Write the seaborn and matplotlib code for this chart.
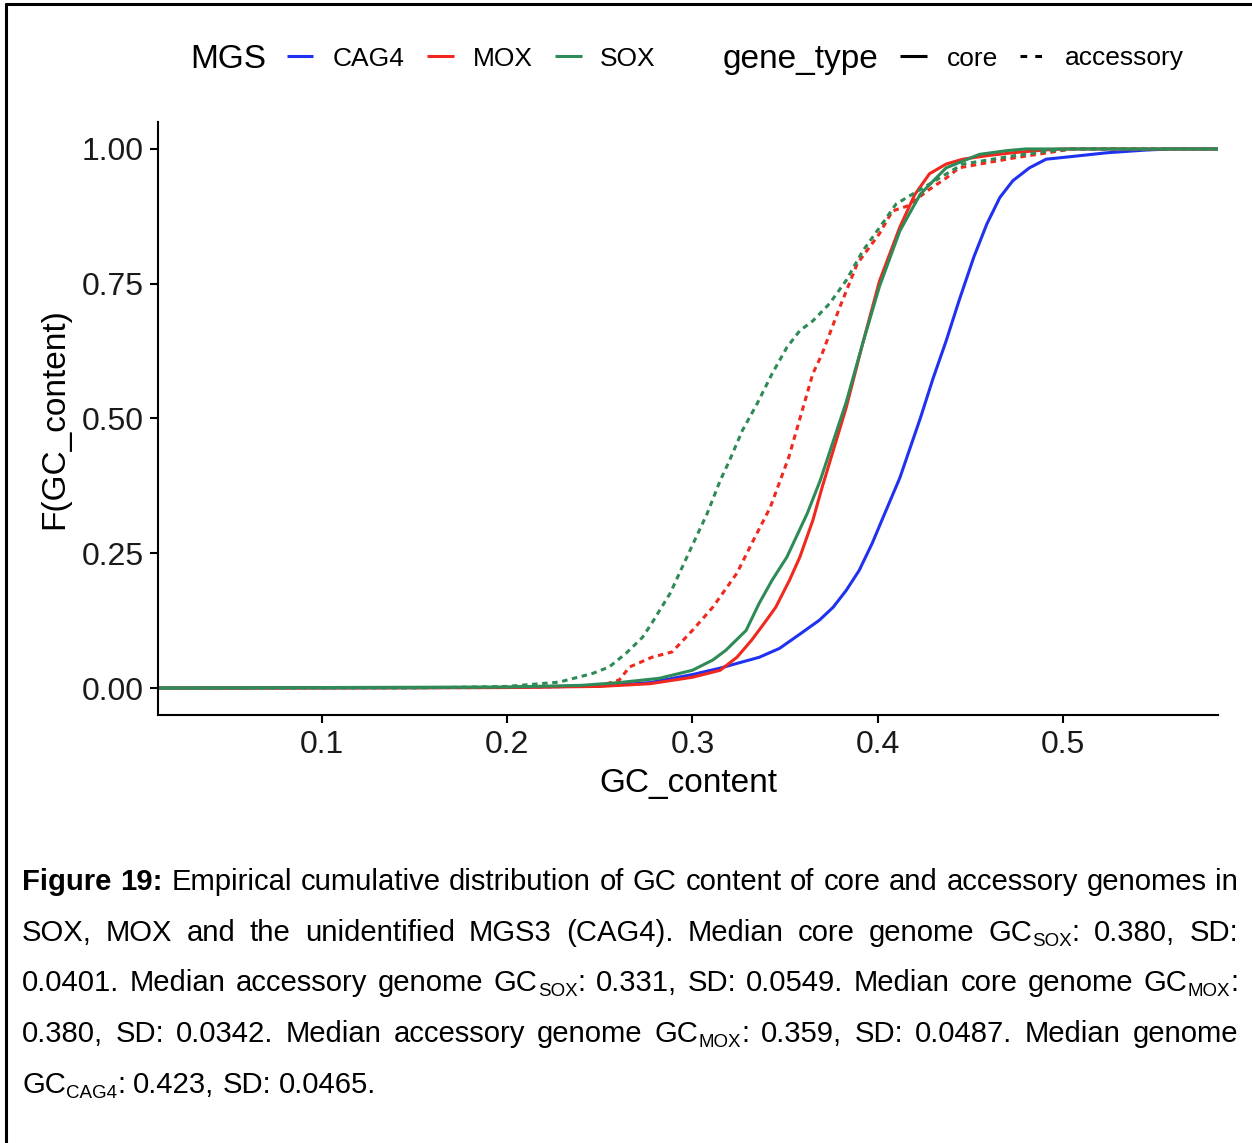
import re
import numpy as np
import pandas as pd
import matplotlib
matplotlib.use("Agg")
import matplotlib.pyplot as plt
from matplotlib.lines import Line2D
import seaborn as sns

# ---------------- data ----------------
mgs_levels = ["CAG4", "MOX", "SOX"]
gene_levels = ["core", "accessory"]

gc_cag4_core = [0.012, 0.20, 0.25, 0.277, 0.300, 0.315, 0.3254, 0.336, 0.347, 0.358, 0.3686,
                0.376, 0.383, 0.390, 0.397, 0.403, 0.412, 0.423, 0.430, 0.437, 0.444, 0.452,
                0.459, 0.466, 0.473, 0.482, 0.491, 0.505, 0.524, 0.545, 0.558, 0.584]
f_cag4_core = [0.0, 0.001, 0.004, 0.010, 0.025, 0.037, 0.047, 0.057, 0.0735, 0.100, 0.126,
               0.150, 0.181, 0.218, 0.268, 0.317, 0.390, 0.500, 0.575, 0.644, 0.719, 0.800,
               0.861, 0.910, 0.941, 0.965, 0.981, 0.986, 0.993, 0.998, 1.0, 1.0]

gc_mox_core = [0.012, 0.20, 0.25, 0.277, 0.300, 0.315, 0.324, 0.332, 0.340, 0.345, 0.3524,
               0.358, 0.365, 0.370, 0.383, 0.392, 0.401, 0.412, 0.420, 0.428, 0.437, 0.446,
               0.460, 0.473, 0.490, 0.500, 0.584]
f_mox_core = [0.0, 0.001, 0.003, 0.008, 0.020, 0.033, 0.057, 0.089, 0.126, 0.150, 0.200,
              0.243, 0.311, 0.372, 0.520, 0.640, 0.755, 0.855, 0.915, 0.954, 0.972, 0.981,
              0.988, 0.993, 0.998, 1.0, 1.0]

gc_mox_acc = [0.036, 0.20, 0.25, 0.2605, 0.266, 0.278, 0.289, 0.300, 0.311, 0.324, 0.332,
              0.342, 0.352, 0.365, 0.370, 0.3795, 0.389, 0.401, 0.408, 0.416, 0.428, 0.437,
              0.444, 0.460, 0.473, 0.490, 0.505, 0.584]
f_mox_acc = [0.0, 0.001, 0.004, 0.015, 0.039, 0.057, 0.067, 0.107, 0.150, 0.213, 0.268,
             0.335, 0.428, 0.583, 0.620, 0.706, 0.787, 0.843, 0.885, 0.894, 0.925, 0.946,
             0.965, 0.975, 0.983, 0.992, 1.0, 1.0]

gc_sox_core = [0.012, 0.20, 0.24, 0.26, 0.282, 0.30, 0.311, 0.318, 0.329, 0.336, 0.343,
               0.351, 0.362, 0.369, 0.383, 0.392, 0.401, 0.412, 0.423, 0.437, 0.455, 0.470,
               0.480, 0.584]
f_sox_core = [0.0, 0.002, 0.005, 0.010, 0.018, 0.033, 0.052, 0.070, 0.107, 0.157, 0.200,
              0.243, 0.324, 0.385, 0.530, 0.640, 0.745, 0.848, 0.916, 0.965, 0.990, 0.997,
              1.0, 1.0]

gc_sox_acc = [0.012, 0.15, 0.20, 0.228, 0.246, 0.255, 0.264, 0.273, 0.278, 0.288, 0.297,
              0.302, 0.308, 0.315, 0.320, 0.327, 0.335, 0.343, 0.351, 0.358, 0.365, 0.374,
              0.383, 0.392, 0.401, 0.410, 0.428, 0.446, 0.473, 0.490, 0.505, 0.584]
f_sox_acc = [0.0, 0.0, 0.003, 0.011, 0.027, 0.039, 0.064, 0.094, 0.120, 0.176, 0.243,
             0.280, 0.324, 0.385, 0.422, 0.478, 0.528, 0.583, 0.632, 0.663, 0.681, 0.713,
             0.756, 0.811, 0.854, 0.898, 0.935, 0.972, 0.987, 0.995, 1.0, 1.0]

x_ticks = [0.1, 0.2, 0.3, 0.4, 0.5]
x_tick_labels = ["0.1", "0.2", "0.3", "0.4", "0.5"]
y_ticks = [0.0, 0.25, 0.50, 0.75, 1.00]
y_tick_labels = ["0.00", "0.25", "0.50", "0.75", "1.00"]

caption_lines = [
    "**Figure** **19:** Empirical cumulative distribution of GC content of core and accessory genomes in",
    "SOX, MOX and the unidentified MGS3 (CAG4). Median core genome GC_{SOX}: 0.380, SD:",
    "0.0401. Median accessory genome GC_{SOX}: 0.331, SD: 0.0549. Median core genome GC_{MOX}:",
    "0.380, SD: 0.0342. Median accessory genome GC_{MOX}: 0.359, SD: 0.0487. Median genome",
    "GC_{CAG4}: 0.423, SD: 0.0465.",
]

# ---------------- build long table ----------------
curves = [
    ("CAG4", "core", gc_cag4_core, f_cag4_core),
    ("MOX", "core", gc_mox_core, f_mox_core),
    ("MOX", "accessory", gc_mox_acc, f_mox_acc),
    ("SOX", "core", gc_sox_core, f_sox_core),
    ("SOX", "accessory", gc_sox_acc, f_sox_acc),
]
rows = []
for mgs, gt, xs, ys in curves:
    for x, y in zip(xs, ys):
        rows.append({"GC_content": x, "F": y, "MGS": mgs, "gene_type": gt})
df = pd.DataFrame(rows)

# ---------------- style ----------------
sns.set_style("white")
plt.rcParams["font.family"] = ["Liberation Sans", "DejaVu Sans"]

W, H = 1252, 1143
fig = plt.figure(figsize=(W / 100, H / 100), dpi=100)
fig.patch.set_facecolor("white")

def fx(px):
    return px / W

def fy(py):
    return 1 - py / H

palette = {"CAG4": "#1f32f0", "MOX": "#f0281e", "SOX": "#2e8b57"}
dash_acc = (1.8, 1.5)
LW = 2.2

ax = fig.add_axes([fx(158), fy(715), fx(1218) - fx(158), fy(122) - fy(715)])
sns.lineplot(data=df, x="GC_content", y="F", hue="MGS", style="gene_type",
             hue_order=mgs_levels, style_order=gene_levels, palette=palette,
             dashes={"core": "", "accessory": dash_acc}, estimator=None, sort=True,
             linewidth=LW, legend=False, ax=ax)

ax.set_xlim(0.0114, 0.5838)
ax.set_ylim(-0.05, 1.05)
ax.set_xticks(x_ticks)
ax.set_xticklabels(x_tick_labels)
ax.set_yticks(y_ticks)
ax.set_yticklabels(y_tick_labels)
for s in ["top", "right"]:
    ax.spines[s].set_visible(False)
for s in ["left", "bottom"]:
    ax.spines[s].set_color("black")
    ax.spines[s].set_linewidth(1.5)
ax.tick_params(axis="both", which="major", length=5.5, width=1.5, color="black",
               labelsize=23, labelcolor="#1a1a1a", pad=5, direction="out",
               bottom=True, left=True)
ax.set_xlabel("GC_content", fontsize=24, labelpad=6, color="black")
ax.set_ylabel("F(GC_content)", fontsize=24, labelpad=8, color="black")
ax.grid(False)

# ---------------- legend (top, horizontal) ----------------
LEG_Y = 56
def leg_text(x, s, size):
    fig.text(fx(x), fy(LEG_Y), s, fontsize=size, ha="left", va="center_baseline",
             color="black")

def leg_key(x0, x1, color, dashes=None):
    ln = Line2D([fx(x0), fx(x1)], [fy(LEG_Y), fy(LEG_Y)], transform=fig.transFigure,
                color=color, linewidth=LW, solid_capstyle="butt")
    if dashes is not None:
        ln.set_dashes(dashes)
    fig.add_artist(ln)

leg_text(190, "MGS", 24)
leg_key(287, 313, palette["CAG4"])
leg_text(333, "CAG4", 19)
leg_key(427, 454, palette["MOX"])
leg_text(473, "MOX", 19)
leg_key(555, 582, palette["SOX"])
leg_text(600, "SOX", 19)
leg_text(723, "gene_type", 24)
leg_key(900, 927, "black")
leg_text(947, "core", 19)
leg_key(1020, 1046, "black", dashes=(LW * 1.0, LW * 1.2))
leg_text(1065, "accessory", 19)

# ---------------- border ----------------
fig.add_artist(Line2D([fx(6), fx(W)], [fy(4), fy(4)], transform=fig.transFigure,
                      color="black", linewidth=2.2))
fig.add_artist(Line2D([fx(6), fx(6)], [fy(4), fy(H)], transform=fig.transFigure,
                      color="black", linewidth=2.2))

# ---------------- caption (justified) ----------------
CAP_FS = 21.1
SUB_FS = CAP_FS * 0.64
fig.canvas.draw()
renderer = fig.canvas.get_renderer()

def parse_word(w):
    m = re.fullmatch(r"\*\*(.*)\*\*", w)
    if m:
        return [(m.group(1), "bold")]
    runs = []
    parts = re.split(r"_\{([^}]*)\}", w)
    for i, p in enumerate(parts):
        if p:
            runs.append((p, "sub" if i % 2 else "normal"))
    return runs

def make_run(s, kind):
    t = fig.text(0, 0, s, fontsize=SUB_FS if kind == "sub" else CAP_FS,
                 fontweight="bold" if kind == "bold" else "normal",
                 ha="left", va="baseline", color="black")
    w = t.get_window_extent(renderer).width
    return t, w

LEFT, RIGHT = 22, 1238
baselines = [890, 941, 991, 1042, 1093]
tmp = fig.text(0, 0, "a a", fontsize=CAP_FS)
w_aa = tmp.get_window_extent(renderer).width
tmp.remove()
tmp = fig.text(0, 0, "aa", fontsize=CAP_FS)
w_a2 = tmp.get_window_extent(renderer).width
tmp.remove()
space_w = w_aa - w_a2

for li, line in enumerate(caption_lines):
    built = []
    for rw in line.split(" "):
        if not rw:
            continue
        items = []
        total = 0
        for s, kind in parse_word(rw):
            t, w = make_run(s, kind)
            items.append((t, w, kind))
            total += w
        built.append((items, total))
    words_w = sum(b[1] for b in built)
    n = len(built)
    last = li == len(caption_lines) - 1
    if not last and n > 1:
        gap = (RIGHT - LEFT - words_w) / (n - 1)
    else:
        gap = space_w
    x = LEFT
    yb = baselines[li]
    for items, total in built:
        for t, w, kind in items:
            dy = 5 if kind == "sub" else 0
            t.set_position((fx(x), fy(yb + dy)))
            x += w
        x += gap

fig.savefig("out.png", dpi=100, facecolor="white")
